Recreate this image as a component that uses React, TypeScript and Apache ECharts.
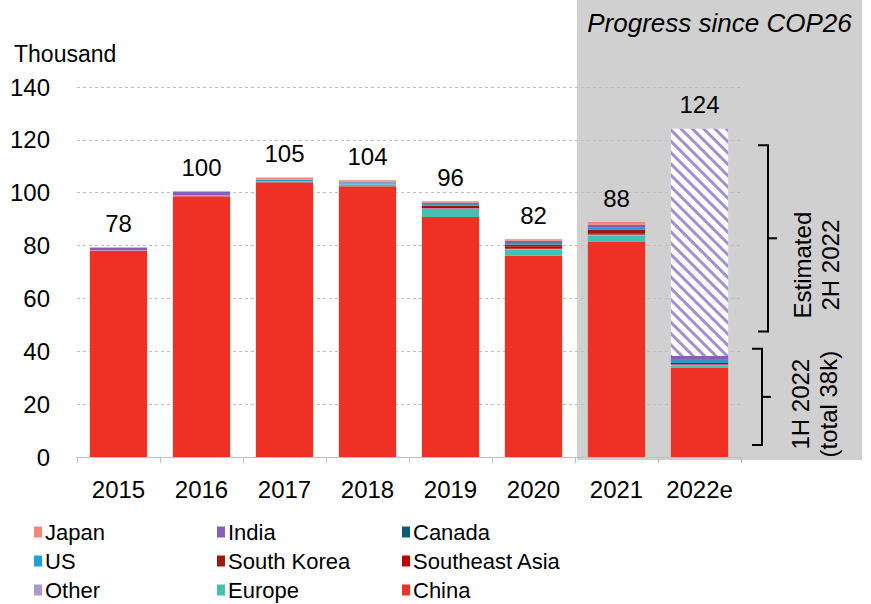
import React, { useEffect, useRef } from 'react';
import * as echarts from 'echarts';

const categories = ['2015', '2016', '2017', '2018', '2019', '2020', '2021', '2022e'];
const totalLabels = ['78', '100', '105', '104', '96', '82', '88', '124'];

const china = [78.0, 98.7, 104.0, 102.4, 90.8, 76.2, 81.5, 33.8];
const europe = [0, 0, 0.2, 0.8, 3.0, 2.2, 2.3, 0.7];
const other = [0.2, 0.2, 0, 0.3, 0.3, 0.4, 0.4, 0.5];
const southeastAsia = [0, 0, 0, 0, 0.5, 0.8, 0.3, 0.2];
const southKorea = [0, 0, 0, 0.1, 0.6, 0.8, 1.5, 0.4];
const us = [0, 0.2, 0.8, 0.3, 0.3, 0.6, 0.7, 1.0];
const canada = [0, 0, 0, 0, 0.2, 0.3, 0, 0.2];
const india = [1.0, 1.2, 0, 0.3, 0.6, 0.5, 1.2, 1.4];
const japan = [0.2, 0.3, 0.8, 0.5, 0.5, 0.6, 1.0, 0];
const estimated2H = [0, 0, 0, 0, 0, 0, 0, 86];

const upperBracket = [47.5, 118];
const lowerBracket = [4.5, 41];
const upperTextValue = 72.6;
const lowerTextValue = 20;

const FONT = "'Liberation Sans', Arial, sans-serif";
const NARROW = "'Liberation Sans Narrow', 'Arial Narrow', 'Liberation Sans', Arial, sans-serif";

const seriesDefs = [
  { name: 'China', data: china, color: '#EE3124' },
  { name: 'Europe', data: europe, color: '#44C1B0' },
  { name: 'Other', data: other, color: '#A99ACD' },
  { name: 'Southeast Asia', data: southeastAsia, color: '#C00000' },
  { name: 'South Korea', data: southKorea, color: '#9B1A10' },
  { name: 'US', data: us, color: '#1BA1DB' },
  { name: 'Canada', data: canada, color: '#0B5A78' },
  { name: 'India', data: india, color: '#8B5DB5' },
  { name: 'Japan', data: japan, color: '#F4877A' },
];

const legendCols = [
  { left: 34, names: ['Japan', 'US', 'Other'] },
  { left: 217, names: ['India', 'South Korea', 'Europe'] },
  { left: 402, names: ['Canada', 'Southeast Asia', 'China'] },
];

export default function App() {
  const ref = useRef<HTMLDivElement>(null);
  useEffect(() => {
    const chart = echarts.init(ref.current!, null, { renderer: 'svg' });
    const series: any[] = seriesDefs.map((s) => ({
      name: s.name,
      type: 'bar',
      stack: 'total',
      data: s.data,
      barWidth: '69%',
      itemStyle: { color: s.color },
      emphasis: { disabled: true },
    }));
    series.push({
      name: 'Estimated 2H 2022',
      type: 'bar',
      stack: 'total',
      data: estimated2H,
      barWidth: '69%',
      itemStyle: {
        color: '#ffffff',
        decal: {
          symbol: 'rect',
          symbolSize: 1,
          color: '#a290cf',
          dashArrayX: [1, 0],
          dashArrayY: [3, 5],
          rotation: Math.PI / 4,
        },
      },
      emphasis: { disabled: true },
    });
    series.push({
      name: 'labels',
      type: 'bar',
      stack: 'total',
      data: categories.map(() => 0),
      barWidth: '69%',
      itemStyle: { color: 'transparent' },
      silent: true,
      label: {
        show: true,
        position: 'top',
        distance: 12,
        formatter: (p: any) => totalLabels[p.dataIndex],
        fontSize: 24,
        fontFamily: FONT,
        color: '#000',
      },
    });

    chart.setOption({
      animation: false,
      title: {
        text: 'Thousand',
        left: 9,
        top: 37,
        textStyle: { fontSize: 23, fontWeight: 'normal', fontFamily: FONT, color: '#000' },
      },
      legend: legendCols.map((c) => ({
        orient: 'vertical',
        left: c.left,
        top: 521,
        padding: 0,
        itemGap: 7,
        itemWidth: 8,
        itemHeight: 11,
        icon: 'rect',
        data: c.names,
        selectedMode: false,
        textStyle: { fontSize: 22, fontFamily: NARROW, color: '#000', padding: [0, 0, 0, -2] },
      })),
      grid: { left: 77, right: 130, top: 87, bottom: 147 },
      xAxis: {
        type: 'category',
        data: categories,
        axisLine: { lineStyle: { color: '#bfbfbf' } },
        axisTick: { show: true, alignWithLabel: false, interval: 0, length: 6, lineStyle: { color: '#bfbfbf' } },
        axisLabel: { fontSize: 24, fontFamily: FONT, color: '#000', margin: 20, interval: 0 },
      },
      yAxis: {
        type: 'value',
        min: 0,
        max: 140,
        interval: 20,
        axisLine: { show: false },
        axisTick: { show: false },
        axisLabel: { fontSize: 24, fontFamily: FONT, color: '#000', margin: 27 },
        splitLine: { lineStyle: { color: '#bfbfbf', type: [3, 3] } },
      },
      series,
    });

    const x21 = chart.convertToPixel({ xAxisIndex: 0 }, '2021') as number;
    const x22 = chart.convertToPixel({ xAxisIndex: 0 }, '2022e') as number;
    const band = x22 - x21;
    const boundary = x21 - band / 2;
    const gridRight = x22 + band / 2;
    const y0 = chart.convertToPixel({ yAxisIndex: 0 }, 0) as number;
    const yv = (v: number) => chart.convertToPixel({ yAxisIndex: 0 }, v) as number;
    const rectLeft = boundary + 2;
    const rectRight = chart.getWidth() - 9;

    const bracket = (x: number, lo: number, hi: number) => {
      const yt = yv(hi);
      const yb = yv(lo);
      const ym = (yt + yb) / 2;
      return [
        {
          type: 'polyline',
          shape: { points: [[x - 10, yt], [x, yt], [x, yb], [x - 10, yb]] },
          style: { stroke: '#000', lineWidth: 2, fill: null },
          silent: true,
        },
        {
          type: 'line',
          shape: { x1: x, y1: ym, x2: x + 9, y2: ym },
          style: { stroke: '#000', lineWidth: 2 },
          silent: true,
        },
      ];
    };

    chart.setOption({
      graphic: {
        elements: [
          {
            type: 'rect',
            z: -10,
            silent: true,
            shape: { x: rectLeft, y: 0, width: rectRight - rectLeft, height: y0 + 3 },
            style: { fill: '#d0d0d0' },
          },
          {
            type: 'text',
            silent: true,
            x: (rectLeft + rectRight) / 2,
            y: 23,
            style: {
              text: 'Progress since COP26',
              fontSize: 26,
              fontStyle: 'italic',
              fontFamily: FONT,
              fill: '#000',
              textAlign: 'center',
              textVerticalAlign: 'middle',
            },
          },
          ...bracket(gridRight + 27, upperBracket[0], upperBracket[1]),
          ...bracket(gridRight + 21, lowerBracket[0], lowerBracket[1]),
          {
            type: 'text',
            silent: true,
            x: gridRight + 75,
            y: yv(upperTextValue),
            rotation: Math.PI / 2,
            style: {
              text: 'Estimated\n2H 2022',
              fontSize: 24,
              lineHeight: 28,
              fontFamily: FONT,
              fill: '#000',
              align: 'center',
              verticalAlign: 'middle',
            },
          },
          {
            type: 'text',
            silent: true,
            x: gridRight + 73,
            y: yv(lowerTextValue),
            rotation: Math.PI / 2,
            style: {
              text: '1H 2022\n(total 38k)',
              fontSize: 24,
              lineHeight: 28,
              fontFamily: FONT,
              fill: '#000',
              align: 'center',
              verticalAlign: 'middle',
            },
          },
        ],
      },
    });

    return () => chart.dispose();
  }, []);
  return <div ref={ref} style={{ position: 'absolute', left: 0, top: 0, width: 871, height: 604 }} />;
}
